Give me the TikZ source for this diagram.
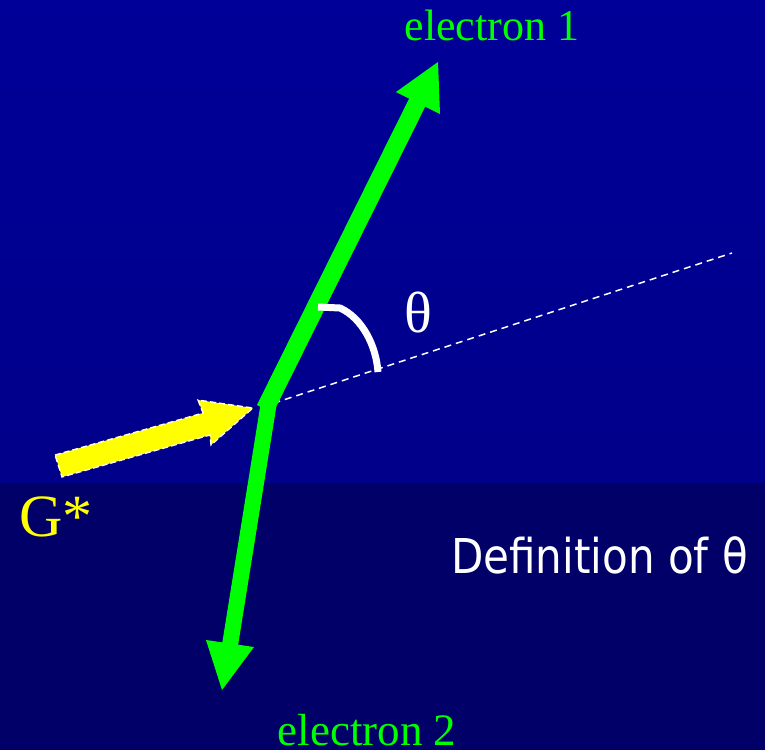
\documentclass[tikz,border=0pt]{standalone}
\usepackage{fontspec}
\setmainfont{Liberation Serif}
\newfontfamily\labelsans{DejaVu Sans}
\definecolor{topblue}{RGB}{0,0,152}
\definecolor{midblue}{RGB}{0,0,138}
\definecolor{lowblue}{RGB}{0,0,104}
\definecolor{elgreen}{RGB}{0,255,0}
\definecolor{gyellow}{RGB}{255,255,0}
\tikzset{
  shaft/.style={draw=elgreen, line cap=butt},
  head/.style={fill=elgreen},
  axisline/.style={draw=white, line width=1.5pt, dash pattern=on 7pt off 5pt},
  anglearc/.style={draw=white, line width=7pt, line cap=butt},
  eltext/.style={text=elgreen, font=\fontsize{44}{44}\selectfont, anchor=base, inner sep=0pt}
}
\begin{document}
\begin{tikzpicture}[x=1pt,y=-1pt]
\path[use as bounding box] (0,0) rectangle (765,750);
\shade[top color=topblue, bottom color=midblue] (0,0) rectangle (765,483);
\fill[lowblue] (0,483) rectangle (765,750);
% key points
\coordinate (V) at (262,407);
\coordinate (A) at (732,253);
\coordinate (s1) at (265,409);
\coordinate (e1end) at (419,99);
\coordinate (s2) at (268.5,405);
\coordinate (e2end) at (230,645);
% dashed axis
\draw[axisline] (V) -- (A);
% yellow G* arrow
\filldraw[fill=gyellow, draw=white, line width=1.3pt, dash pattern=on 6pt off 3pt, line join=miter]
  (55,455) -- (203,413) -- (198,400) -- (253,408) -- (211,445) -- (210,435) -- (62,477) -- cycle;
% electron 1
\draw[shaft, line width=18pt] (s1) -- (e1end);
\fill[head] (438,62) -- (396,92) -- (440,114) -- cycle;
% electron 2
\draw[shaft, line width=16pt] (s2) -- (e2end);
\fill[head] (222,690) -- (206,640) -- (254,647) -- cycle;
% angle arc
\draw[anglearc] (318,307) -- (340,308) .. controls (362,318) and (376,345) .. (378,372);
% labels
\node[eltext] (l1) at (492,40) {electron 1};
\node[eltext, font=\fontsize{45}{45}\selectfont] (l2) at (367,745) {electron 2};
\node[text=white, font=\fontsize{58}{58}\selectfont, anchor=base, inner sep=0pt] (th) at (418,332) {θ};
\node[text=gyellow, font=\fontsize{60}{60}\selectfont, anchor=base west, inner sep=0pt] (g) at (19,536) {G*};
\node[text=white, font=\labelsans\fontsize{48}{48}\selectfont, anchor=base east, inner sep=0pt] (def) at (748,573) {\scalebox{0.876}[1]{Definition of θ}};
\end{tikzpicture}
\end{document}
